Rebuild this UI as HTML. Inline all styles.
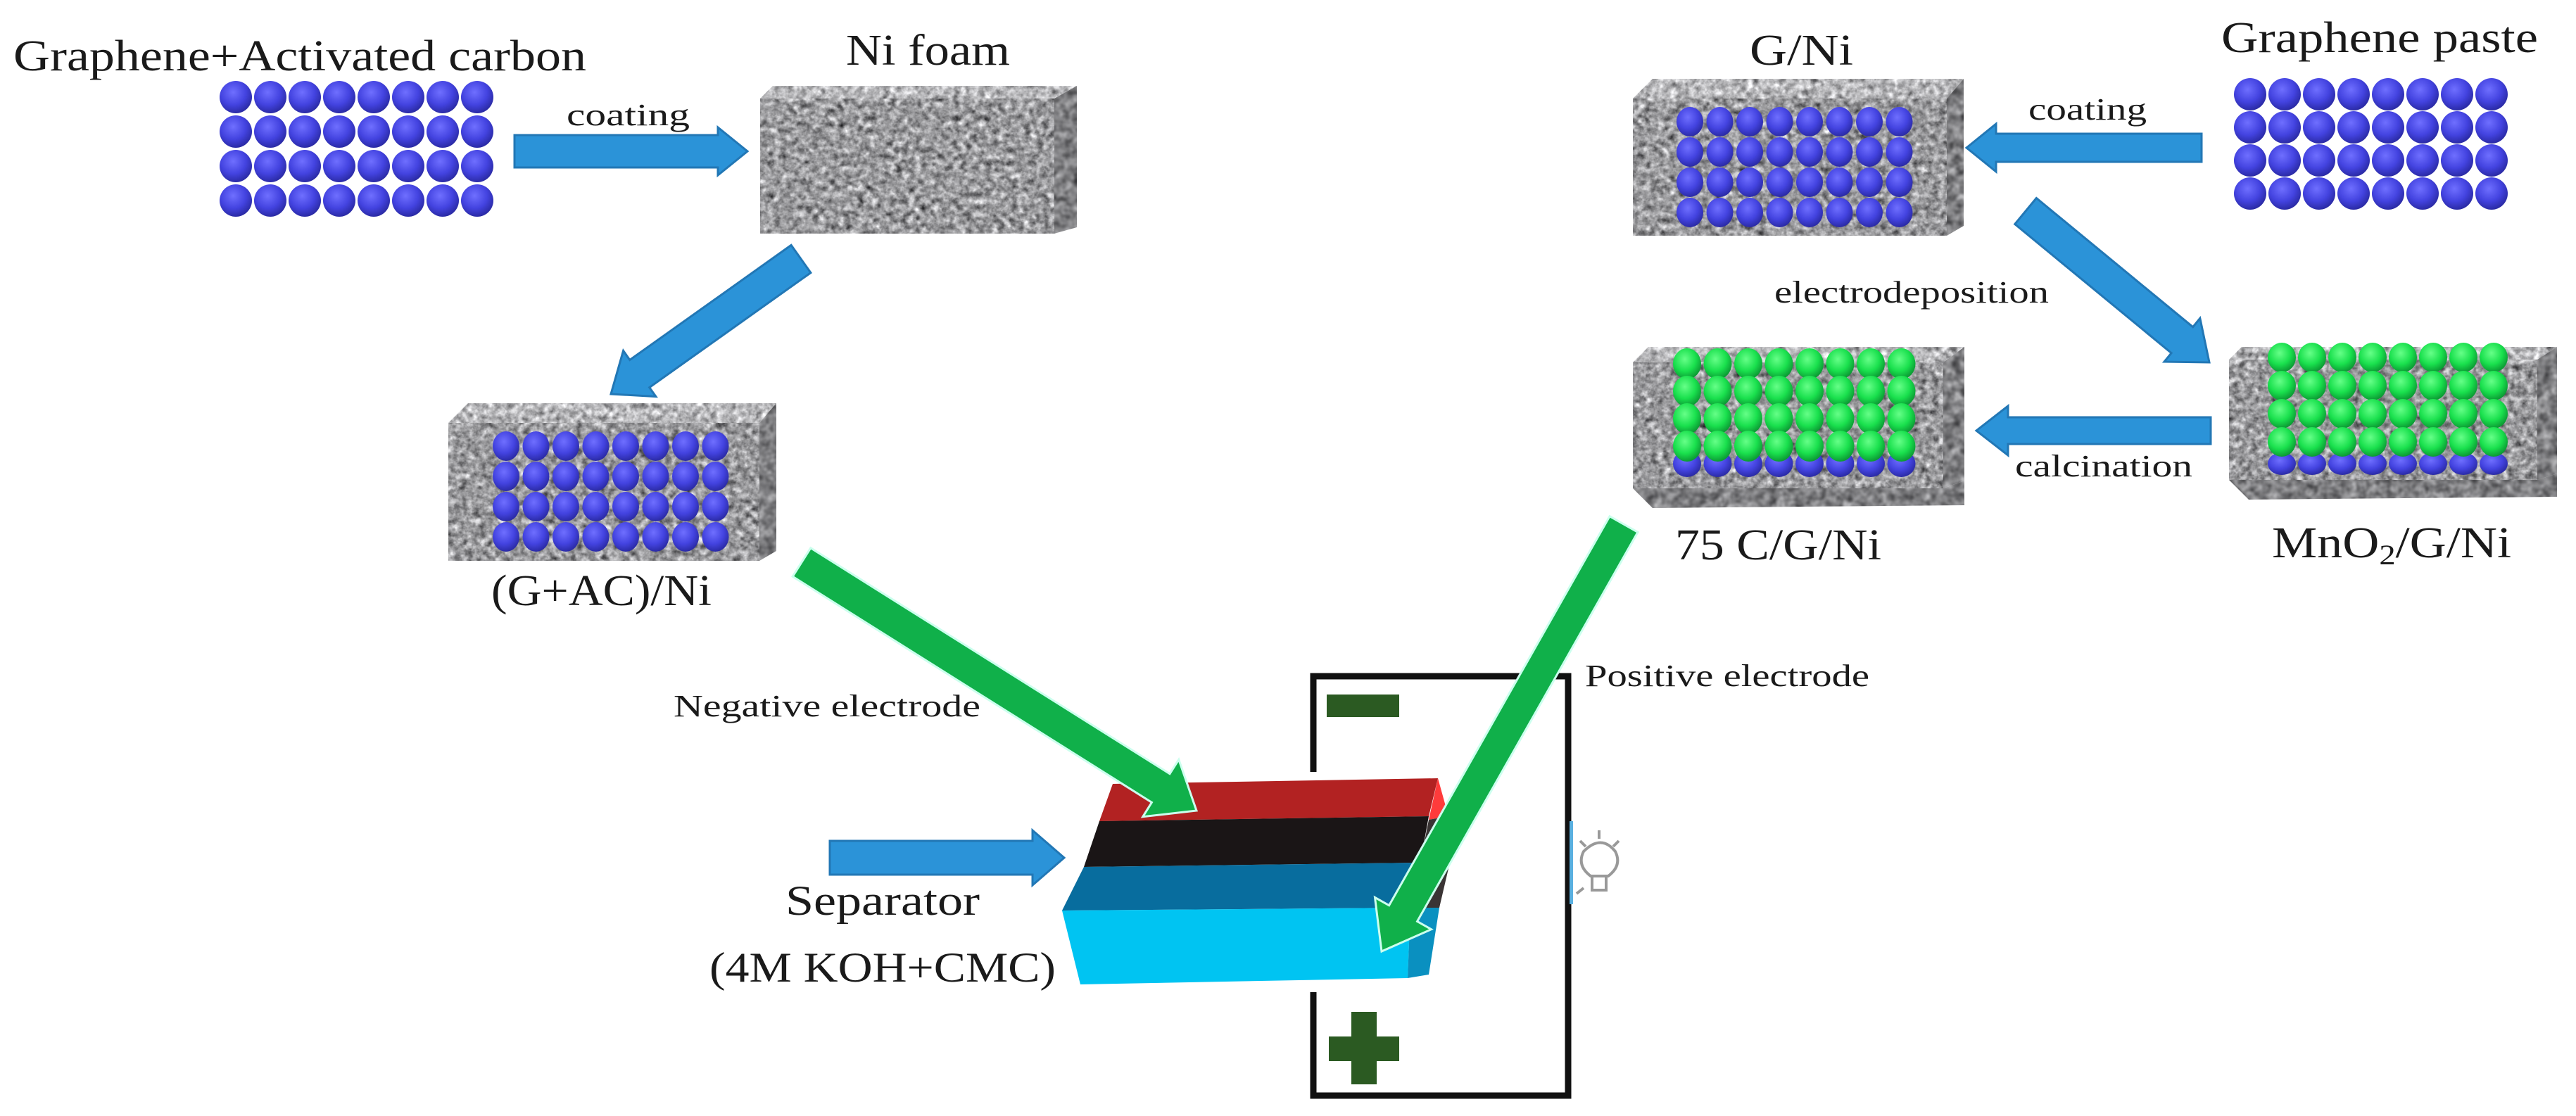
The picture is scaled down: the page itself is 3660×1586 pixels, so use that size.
<!DOCTYPE html>
<html><head><meta charset="utf-8"><style>
html,body{margin:0;padding:0;background:#fff;}
svg{display:block;}
text{font-family:"Liberation Serif",serif;fill:#1a1a1a;}
</style></head><body>
<svg id="s" width="3660" height="1586" viewBox="0 0 3660 1586" xmlns="http://www.w3.org/2000/svg">
<defs>
<radialGradient id="gb" cx="0.42" cy="0.35" r="0.65"><stop offset="0" stop-color="#6f6fff"/><stop offset="0.6" stop-color="#4343e0"/><stop offset="1" stop-color="#2b2ba6"/></radialGradient>
<radialGradient id="gg" cx="0.42" cy="0.35" r="0.65"><stop offset="0" stop-color="#66ff88"/><stop offset="0.6" stop-color="#19e04d"/><stop offset="1" stop-color="#0c9a34"/></radialGradient>
<filter id="foam" x="0" y="0" width="1" height="1" color-interpolation-filters="sRGB">
<feTurbulence type="fractalNoise" baseFrequency="0.11" numOctaves="3" seed="4"/>
<feColorMatrix type="matrix" values="0.33 0.33 0.33 0 0  0.33 0.33 0.33 0 0  0.33 0.33 0.33 0 0  0 0 0 0 1"/>
<feComponentTransfer><feFuncR type="linear" slope="1.5" intercept="-0.14"/><feFuncG type="linear" slope="1.5" intercept="-0.14"/><feFuncB type="linear" slope="1.5" intercept="-0.13"/></feComponentTransfer>
<feComposite in2="SourceGraphic" operator="in"/>
</filter>
<filter id="foamL" x="0" y="0" width="1" height="1" color-interpolation-filters="sRGB">
<feTurbulence type="fractalNoise" baseFrequency="0.11" numOctaves="3" seed="7"/>
<feColorMatrix type="matrix" values="0.33 0.33 0.33 0 0  0.33 0.33 0.33 0 0  0.33 0.33 0.33 0 0  0 0 0 0 1"/>
<feComponentTransfer><feFuncR type="linear" slope="1.5" intercept="-0.02"/><feFuncG type="linear" slope="1.5" intercept="-0.02"/><feFuncB type="linear" slope="1.5" intercept="-0.01"/></feComponentTransfer>
<feComposite in2="SourceGraphic" operator="in"/>
</filter>
<filter id="foamD" x="0" y="0" width="1" height="1" color-interpolation-filters="sRGB">
<feTurbulence type="fractalNoise" baseFrequency="0.08" numOctaves="2" seed="9"/>
<feColorMatrix type="matrix" values="0.33 0.33 0.33 0 0  0.33 0.33 0.33 0 0  0.33 0.33 0.33 0 0  0 0 0 0 1"/>
<feComponentTransfer><feFuncR type="linear" slope="1.1" intercept="-0.05"/><feFuncG type="linear" slope="1.1" intercept="-0.05"/><feFuncB type="linear" slope="1.1" intercept="-0.04"/></feComponentTransfer>
<feComposite in2="SourceGraphic" operator="in"/>
</filter>
</defs>
<g id="boxes"></g>
<g id="balls"></g>

<!-- battery -->
<polygon points="1581,1114 2043,1106 2030,1160 1562,1167" fill="#b22222"/>
<polygon points="1562,1167 2030,1160 2018,1226 1540,1232" fill="#1a1516"/>
<polygon points="1540,1232 2018,1226 2004,1290 1509,1294" fill="#086d9e"/>
<polygon points="1509,1294 2004,1290 2000,1390 1535,1399" fill="#00c4f2"/>
<polygon points="2043,1106 2058,1160 2030,1165" fill="#ff3b3b"/>
<polygon points="2030,1165 2058,1160 2066,1200 2045,1290 2004,1290 2018,1226" fill="#3a3434"/>
<polygon points="2004,1290 2045,1290 2030,1385 2000,1390" fill="#0a90c0"/>

<!-- frame -->
<path d="M1866,1097 V961 H2228 V1557 H1866 V1410" fill="none" stroke="#111" stroke-width="9"/>
<rect x="1885" y="987" width="103" height="32" fill="#2b5a22"/>
<rect x="1920" y="1438" width="36" height="103" fill="#2b5a22"/>
<rect x="1888" y="1473" width="100" height="35" fill="#2b5a22"/>
<rect x="2230" y="1167" width="5" height="118" fill="#5ab0e0"/>
<g stroke="#999" stroke-width="4" fill="none">
<path d="M2250,1210 q25,-25 45,0 q10,20 -10,35 l-25,0 q-20,-15 -10,-35z"/>
<path d="M2262,1245 v20 h20 v-20"/>
<path d="M2272,1180 v12 M2245,1195 l8,8 M2300,1195 l-8,8 M2240,1270 l10,-8"/>
</g>
<g id="arrows"></g>

<!-- labels -->
<text x="19" y="100" font-size="62" textLength="814" lengthAdjust="spacingAndGlyphs">Graphene+Activated carbon</text>
<text x="1202" y="92" font-size="62" textLength="233" lengthAdjust="spacingAndGlyphs">Ni foam</text>
<text x="805" y="178" font-size="44" textLength="175" lengthAdjust="spacingAndGlyphs">coating</text>
<text x="698" y="860" font-size="62" textLength="313" lengthAdjust="spacingAndGlyphs">(G+AC)/Ni</text>
<text x="957" y="1018" font-size="44" textLength="436" lengthAdjust="spacingAndGlyphs">Negative electrode</text>
<text x="1116" y="1300" font-size="60" textLength="276" lengthAdjust="spacingAndGlyphs">Separator</text>
<text x="1008" y="1395" font-size="60" textLength="492" lengthAdjust="spacingAndGlyphs">(4M KOH+CMC)</text>
<text x="2252" y="975" font-size="44" textLength="404" lengthAdjust="spacingAndGlyphs">Positive electrode</text>
<text x="2486" y="92" font-size="62" textLength="147" lengthAdjust="spacingAndGlyphs">G/Ni</text>
<text x="3156" y="74" font-size="62" textLength="450" lengthAdjust="spacingAndGlyphs">Graphene paste</text>
<text x="2882" y="170" font-size="44" textLength="168" lengthAdjust="spacingAndGlyphs">coating</text>
<text x="2521" y="430" font-size="44" textLength="390" lengthAdjust="spacingAndGlyphs">electrodeposition</text>
<text x="2863" y="677" font-size="44" textLength="252" lengthAdjust="spacingAndGlyphs">calcination</text>
<text x="2380" y="795" font-size="62" textLength="293" lengthAdjust="spacingAndGlyphs">75 C/G/Ni</text>
<text x="3228" y="792" font-size="62" textLength="340" lengthAdjust="spacingAndGlyphs">MnO<tspan font-size="40" dy="10">2</tspan><tspan dy="-10">/G/Ni</tspan></text>
</svg>
<script>
var NS="http://www.w3.org/2000/svg";
function el(p,t,a){var e=document.createElementNS(NS,t);for(var k in a)e.setAttribute(k,a[k]);p.appendChild(e);return e;}
var B=document.getElementById("boxes"),BL=document.getElementById("balls"),A=document.getElementById("arrows");
function P(a){return a.map(function(p){return p[0]+","+p[1]}).join(" ");}
function box(x,y,w,h,t,d,b){
  var fr=x+w-d, fb=y+h-b;
  el(B,"polygon",{points:P([[x+t,y],[x+w,y],[fr,y+t],[x,y+t]]),fill:"#bbb",filter:"url(#foamL)"});
  el(B,"rect",{x:x,y:y+t,width:w-d,height:fb-y-t,fill:"#999",filter:"url(#foam)"});
  el(B,"polygon",{points:P([[fr,y+t],[x+w,y],[x+w,fb-t*0.5],[fr,fb]]),fill:"#777",filter:"url(#foamD)"});
  if(b>0) el(B,"polygon",{points:P([[x,fb],[fr,fb],[x+w,fb-t*0.5],[x+w,y+h-4],[x+b,y+h]]),fill:"#777",filter:"url(#foamD)"});
}
box(1080,122,450,210,18,32,0);
box(637,573,466,224,28,24,0);
box(2320,112,470,223,28,24,0);
box(2320,493,471,229,22,30,28);
box(3167,493,466,217,18,28,28);
function grid(x0,y0,cols,rows,dx,dy,rx,ry,fill){
  for(var r=0;r<rows;r++)for(var c=0;c<cols;c++)
    el(BL,"ellipse",{cx:x0+c*dx+rx,cy:y0+r*dy+ry,rx:rx,ry:ry,fill:fill});
}
grid(312,115,8,4,49,49,23,23,"url(#gb)");
grid(3174,111,8,4,49,47,23,23,"url(#gb)");
grid(700,613,8,4,42.5,43,19,21,"url(#gb)");
grid(2382,152,8,4,42.5,43,19,21,"url(#gb)");
grid(2377,640,8,1,43.5,0,20,19,"url(#gb)");
grid(2377,495,8,4,43.5,39,20,22,"url(#gg)");
grid(3222,643,8,1,43,0,20,16,"url(#gb)");
grid(3222,487,8,4,43,40,20,21,"url(#gg)");
function arrow(x1,y1,x2,y2,sw,hw,hl,fill,stroke){
  var dx=x2-x1,dy=y2-y1,L=Math.sqrt(dx*dx+dy*dy),ux=dx/L,uy=dy/L,px=-uy,py=ux;
  var bx=x2-ux*hl,by=y2-uy*hl;
  var pts=[[x1+px*sw/2,y1+py*sw/2],[bx+px*sw/2,by+py*sw/2],[bx+px*hw/2,by+py*hw/2],[x2,y2],[bx-px*hw/2,by-py*hw/2],[bx-px*sw/2,by-py*sw/2],[x1-px*sw/2,y1-py*sw/2]];
  el(A,"polygon",{points:pts.map(function(p){return p[0].toFixed(1)+","+p[1].toFixed(1)}).join(" "),fill:fill,stroke:stroke,"stroke-width":3});
}
var bl="#2b93d8",bs="#2277b5";
arrow(731,215,1062,215,46,68,42,bl,bs);
arrow(1138,368,868,560,48,80,50,bl,bs);
arrow(3128,210,2794,210,40,68,42,bl,bs);
arrow(2878,300,3139,515,48,80,50,bl,bs);
arrow(3141,612,2808,612,38,70,45,bl,bs);
arrow(1179,1219,1512,1219,48,78,45,bl,bs);
var gr="#10b04a";
arrow(1139,799,1700,1152,48,96,60,gr,"#cfe");
arrow(2307,745,1963,1352,46,92,62,gr,"#cfe");
</script>
</body></html>
